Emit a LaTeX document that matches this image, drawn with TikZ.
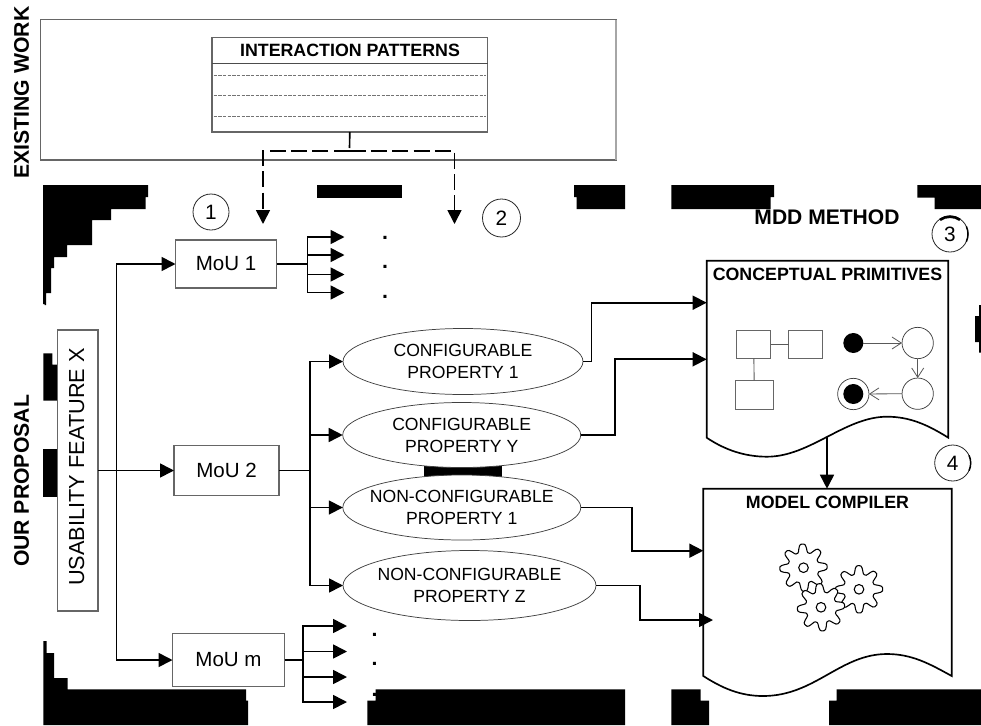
\documentclass[tikz,border=0pt]{standalone}
\usepackage{fontspec}
\setmainfont{Liberation Sans}
\usetikzlibrary{arrows.meta,shapes.geometric}
\newcommand{\fs}[1]{\fontsize{#1}{#1}\selectfont}
\tikzset{
  x=0.75pt,y=-0.75pt,
  every node/.style={inner sep=0pt,outer sep=0pt},
  blk/.style={fill=black,draw=none},
  boxn/.style={draw=black!60,line width=0.8pt,rectangle,fill=white},
  mou/.style={boxn,font=\fs{15.4}},
  prop/.style={ellipse,inner sep=-30pt,draw=black!75,line width=0.55pt,fill=white,align=center,font=\fontsize{13.2}{16.5}\selectfont},
  num/.style={circle,draw=black!85,line width=0.6pt,minimum size=27pt,font=\fs{15.6}},
  head/.style={font=\bfseries\fs{13.35}},
  big/.style={font=\bfseries\fs{15.9}},
  conn/.style={draw=black,line width=1.25pt},
  arr/.style={conn,-{Triangle[length=10.5pt,width=10.5pt]}},
  darr/.style={arr,dash pattern=on 12pt off 4pt},
  doc/.style={draw=black,line width=1.25pt,fill=white,line join=miter},
  uml/.style={boxn,line width=0.7pt},
  st/.style={circle,draw=black!75,line width=0.55pt,minimum size=23.5pt,fill=white},
  stb/.style={circle,fill=black,minimum size=15pt},
  open/.style={draw=black!65,line width=0.6pt,-{Straight Barb[length=7pt,width=9pt,line width=0.6pt]}},
  umll/.style={draw=black!65,line width=0.7pt},
  gear/.style={draw=black,line width=0.8pt,fill=white},
  dotn/.style={font=\bfseries\fs{16}},
}
\newcommand{\gearat}[3]{% cx cy phase
  \draw[gear] plot[smooth cycle,samples=97,domain=0:356.25]
    ({#1+(19.6+4.6*(cos(8*\x+#3)-cos(24*\x+3*#3)/8))*cos(\x)},{#2+(19.6+4.6*(cos(8*\x+#3)-cos(24*\x+3*#3)/8))*sin(\x)});
  \draw[gear] (#1,#2) circle[radius=3.6pt];
}
\begin{document}
\begin{tikzpicture}
\useasboundingbox (0,0) rectangle (981,725);
\fill[white] (0,0) rectangle (981,725);
% black artefacts
\fill[blk] (43,185)--(148,185)--(148,197)--(145.5,197)--(145.5,209)--(111,209)--(111,220)--(92,220)--(92,245)--(67,245)--(67,257)--(54,257)--(54,268)--(51,268)--(51,293)--(46,293)--(46,305)--(44.5,305)--(44.5,304)--(43,304)--cycle;
\fill[blk] (316.5,185) rectangle (402,198);
\fill[blk] (574,185)--(625,185)--(625,209)--(576.5,209)--(576.5,197)--(574,197)--cycle;
\fill[blk] (671.3,185)--(774,185)--(774,197)--(770.7,197)--(770.7,209)--(671.3,209)--cycle;
\fill[blk] (917.3,185)--(981,185)--(981,209)--(934.5,209)--(934.5,197.5)--(917.3,197.5)--cycle;
\fill[blk] (979,305)--(981,305)--(981,352.7)--(979,352.7)--(979,342)--(975,342)--(975,316)--(979,316)--cycle;
\fill[blk] (43.3,353.3)--(52.3,353.3)--(52.3,364.5)--(58,364.5)--(58,400.7)--(43.3,400.7)--cycle;
\fill[blk] (43.3,449)--(58,449)--(58,496.7)--(43.3,496.7)--cycle;
\fill[blk] (43.3,641)--(46.5,641)--(46.5,653)--(54,653)--(54,678)--(67.5,678)--(67.5,689.3)--(246,689.3)--(246,700.7)--(248,700.7)--(248,725)--(43.3,725)--cycle;
\fill[blk] (375.7,689.3)--(625,689.3)--(625,725)--(367.3,725)--(367.3,700.5)--(375.7,700.5)--cycle;
\fill[blk] (671.3,689.3)--(700.7,689.3)--(700.7,700.7)--(709,700.7)--(709,725)--(671.3,725)--cycle;
\fill[blk] (836.7,689.3)--(981,689.3)--(981,725)--(829,725)--(829,700.7)--(836.7,700.7)--cycle;
\fill[blk] (424,466) rectangle (502,478);

% side headings
\node[big,rotate=90] (hexist) at (21.5,92.5) {EXISTING WORK};
\node[big,rotate=90] (hours) at (21.5,481) {OUR PROPOSAL};
\node[font=\bfseries\fs{15.8}] (hmdd) at (827,217) {MDD METHOD};

% existing work
\node[rectangle,draw=black!60,line width=0.8pt,minimum width=575.5*.75pt,minimum height=140.5*.75pt] (ew) at (328.25,89.75) {};
\draw[black!35,line width=1.2pt] (ew.north east) -- (ew.south east);
\node[boxn,minimum width=275.5*.75pt,minimum height=94.5*.75pt] (ip) at (349.75,84.75) {};
\node[head] (iptitle) at (350,50) {INTERACTION PATTERNS};
\draw[black!70,line width=0.7pt] (ip.north west) ++(0,25.5) -- ++(275.5,0);
\foreach \yy in {37.5,58,78.5}
  \draw[black!55,line width=0.6pt,dash pattern=on 2.5pt off 1pt] (ip.north west) ++(1.5,\yy) -- ++(272.5,0);

% dashed connectors
\coordinate (jd) at (349.5,151);
\coordinate (ta) at (263,224);
\coordinate (tb) at (454.5,224);
\draw[conn,dash pattern=on 12pt off 4pt] (ip.south) -- (jd);
\draw[darr] (jd) -| (ta);
\draw[darr] (jd) -| (tb);

% number circles
\node[num] (c1) at (211,212) {1};
\node[num,minimum size=28.5pt] (c2) at (501.5,218) {2};
\node[num] (c3) at (950,234) {3};
\node[num] (c4) at (952.7,463) {4};
\draw[black,line width=2pt] (c3) ++(125:13pt) arc[start angle=125,end angle=55,radius=13pt];
\draw[black,line width=1.1pt] (c3) ++(25:13.5pt) arc[start angle=25,end angle=-25,radius=13.5pt];
\draw[black,line width=1.1pt] (c4) ++(25:13.5pt) arc[start angle=25,end angle=-25,radius=13.5pt];

% left column
\node[boxn,minimum width=40.5*.75pt,minimum height=281*.75pt] (uf) at (77.75,470.5) {};
\node[rotate=90,font=\fs{16.3}] (uft) at (76.7,467) {USABILITY FEATURE X};
\node[mou,minimum width=101*.75pt,minimum height=48*.75pt] (m1) at (226,264) {MoU 1};
\node[mou,minimum width=105*.75pt,minimum height=50*.75pt] (m2) at (226.5,470.5) {MoU 2};
\node[mou,minimum width=112*.75pt,minimum height=52.5*.75pt] (m3) at (228.5,660) {MoU m};

% trunk
\coordinate (tr) at (116.5,470.5);
\draw[arr] (uf.east |- tr) -- (m2.west);
\draw[arr] (tr) |- (m1.west);
\draw[arr] (tr) |- (m3.west);

% ellipses
\node[prop,minimum width=240*.75pt,minimum height=66*.75pt] (e1) at (463,361.5) {CONFIGURABLE\\PROPERTY 1};
\node[prop,minimum width=238*.75pt,minimum height=65*.75pt] (e2) at (461.7,435) {CONFIGURABLE\\PROPERTY Y};
\node[prop,minimum width=238*.75pt,minimum height=65*.75pt] (e3) at (461.8,507.5) {NON-CONFIGURABLE\\PROPERTY 1};
\node[prop,minimum width=253*.75pt,minimum height=70*.75pt] (e4) at (469.5,585.5) {NON-CONFIGURABLE\\PROPERTY Z};

% MoU 2 fan
\coordinate (j2) at (310,470.5);
\draw[conn] (m2.east) -- (j2);
\foreach \e in {e1,e2,e3,e4}
  \draw[arr] (j2) |- (\e.west);

% MoU 1 fan
\coordinate (j1) at (307.5,264);
\draw[conn] (m1.east) -- (j1);
\foreach \n/\yy in {a/237,b/255,c/274.5,d/292.5}{
  \coordinate (f\n) at (344.5,\yy);
  \draw[arr] (j1) |- (f\n);
}
\node[dotn] (d1) at (385,238) {.};
\node[dotn] (d2) at (385,267) {.};
\node[dotn] (d3) at (385,297) {.};

% MoU m fan
\coordinate (j3) at (303,660);
\draw[conn] (m3.east) -- (j3);
\foreach \n/\yy in {a/626,b/651.5,c/677,d/702}{
  \coordinate (g\n) at (347,\yy);
  \draw[arr] (j3) |- (g\n);
}
\node[dotn] (d4) at (374.5,635) {.};
\node[dotn] (d5) at (374.5,664.3) {.};
\node[dotn] (d6) at (374.5,694.8) {.};

% conceptual primitives document
\draw[doc] (706.7,437.7) -- (706.7,260.7) -- (948.3,260.7) -- (948.3,437.7)
  .. controls (928,425) and (910,416.7) .. (887,416.7)
  .. controls (845,416.7) and (810,456.7) .. (767,456.7)
  .. controls (745,456.7) and (725,450) .. cycle;
\node[head] (cptitle) at (827.5,274.5) {CONCEPTUAL PRIMITIVES};
\node[uml,minimum width=34.3*.75pt,minimum height=28*.75pt] (u1) at (753.8,344.3) {};
\node[uml,minimum width=34*.75pt,minimum height=28*.75pt] (u2) at (805.7,344.3) {};
\node[uml,minimum width=37.7*.75pt,minimum height=29*.75pt] (u3) at (754.2,394.8) {};
\draw[umll] (u1) -- (u2);
\draw[umll] (u1) -- (u3);
\node[stb] (s0) at (853.3,343) {};
\node[st] (s1) at (917.7,343) {};
\node[st] (s2) at (917.7,393.7) {};
\node[st] (s3) at (853.3,394) {};
\node[stb] (s3i) at (853.3,394) {};
\draw[open] (s0) -- (s1);
\draw[open] (s1) -- (s2);
\draw[open] (s2) -- (s3);

% model compiler document
\draw[doc] (703.3,676) -- (703.3,488.7) -- (951.7,488.7) -- (951.7,676)
  .. controls (930,664) and (912,654) .. (887,654)
  .. controls (840,654) and (815,696) .. (763,696)
  .. controls (740,696) and (722,688) .. cycle;
\node[head] (mctitle) at (827.5,502) {MODEL COMPILER};
\gearat{803.5}{567.7}{20}
\gearat{859}{589.3}{5}
\gearat{821}{607.3}{35}

% links to documents
\coordinate (w1) at (827,436.5);
\coordinate (w2) at (827,488.7);
\draw[arr] (w1) -- (w2);
\coordinate (t1) at (706.7,302.7);
\coordinate (v1) at (591.5,302.7);
\draw[arr] (e1.east) -| (v1) -- (t1);
\coordinate (t2) at (706.7,359.3);
\coordinate (v2) at (615.3,359.3);
\draw[arr] (e2.east) -| (v2) -- (t2);
\coordinate (t3) at (703.3,550.7);
\coordinate (v3) at (632,550.7);
\draw[arr] (e3.east) -| (v3) -- (t3);
\coordinate (t4) at (713,620);
\coordinate (v4) at (639.7,620);
\draw[arr] (e4.east) -| (v4) -- (t4);
\end{tikzpicture}
\end{document}
